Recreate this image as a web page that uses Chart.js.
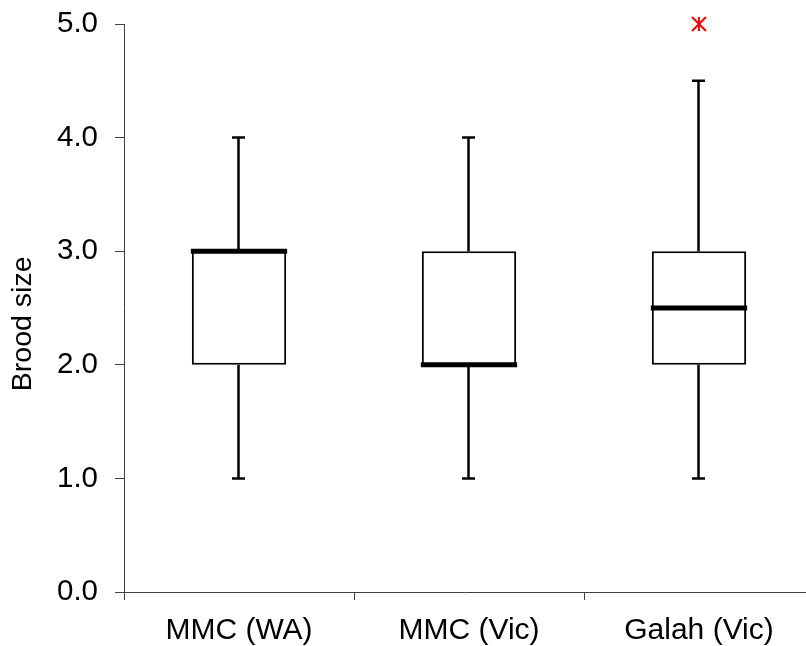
<!doctype html>
<html lang="en">
  <head>
    <meta charset="utf-8">
    <title>Brood size box plot</title>
    <style>
      * {
        margin: 0;
        padding: 0;
      }
      body {
        background: #fff;
      }
    </style>
  </head>
  <body>
    <canvas id="myChart" width="806" height="646"></canvas>
    <script src="https://cdn.jsdelivr.net/npm/chart.js/dist/chart.umd.min.js"></script>
    <script>
    // data
    const labels = ['MMC (WA)', 'MMC (Vic)', 'Galah (Vic)'];
    const mins = [1, 1, 1];
    const q1s = [2, 2, 2];
    const medians = [3, 2, 2.5];
    const q3s = [3, 3, 3];
    const maxs = [4, 4, 4.5];
    const outliers = [null, null, 5];
    const yTicks = [0, 1, 2, 3, 4, 5];

    // red asterisk used for the outlier
    function makeAsterisk(size) {
      const c = document.createElement('canvas');
      c.width = size;
      c.height = size;
      const g = c.getContext('2d');
      g.strokeStyle = '#ff0000';
      g.lineWidth = 2;
      const m = size / 2, r = size / 2 - 1;
      g.beginPath();
      g.moveTo(m, 1); g.lineTo(m, size - 1);
      g.moveTo(m - r, m - r); g.lineTo(m + r, m + r);
      g.moveTo(m + r, m - r); g.lineTo(m - r, m + r);
      g.stroke();
      return c;
    }

    // the x axis in the original runs a bit past the right edge
    const widenX = {
      id: 'widenX',
      afterLayout(chart) {
        const x = chart.scales.x;
        x.right = chart.width + 8;
        x.width = x.right - x.left;
        chart.chartArea.right = x.right;
        chart.chartArea.width = x.right - chart.chartArea.left;
        x.configure();
      }
    };

    // whiskers + medians drawn from the scales
    const boxPlot = {
      id: 'boxPlot',
      afterDatasetsDraw(chart) {
        const { ctx, scales: { x, y } } = chart;
        const bars = chart.getDatasetMeta(0).data;
        ctx.save();
        ctx.strokeStyle = '#000';
        ctx.lineCap = 'butt';
        labels.forEach((lab, i) => {
          const cx = Math.round(x.getPixelForValue(i)) - 0.5;
          const capW = 13;
          ctx.lineWidth = 2.5;
          ctx.beginPath();
          ctx.moveTo(cx, y.getPixelForValue(q3s[i]));
          ctx.lineTo(cx, y.getPixelForValue(maxs[i]));
          ctx.moveTo(cx, y.getPixelForValue(q1s[i]));
          ctx.lineTo(cx, y.getPixelForValue(mins[i]));
          ctx.moveTo(cx - capW / 2, y.getPixelForValue(maxs[i]));
          ctx.lineTo(cx + capW / 2, y.getPixelForValue(maxs[i]));
          ctx.moveTo(cx - capW / 2, y.getPixelForValue(mins[i]));
          ctx.lineTo(cx + capW / 2, y.getPixelForValue(mins[i]));
          ctx.stroke();
          // median
          const half = bars[i].width / 2 + 1;
          ctx.lineWidth = 5;
          ctx.beginPath();
          ctx.moveTo(bars[i].x - half, y.getPixelForValue(medians[i]));
          ctx.lineTo(bars[i].x + half, y.getPixelForValue(medians[i]));
          ctx.stroke();
        });
        ctx.restore();
      }
    };

    const axisColor = '#404040';
    const family = '"Liberation Sans", Arial, sans-serif';

    const config = {
      type: 'bar',
      data: {
        labels,
        datasets: [{
          label: 'box',
          data: q1s.map((v, i) => [v, q3s[i]]),
          backgroundColor: '#ffffff',
          borderColor: '#000000',
          borderWidth: 2,
          borderSkipped: false,
          categoryPercentage: 1,
          barPercentage: 0.41
        }, {
          type: 'line',
          label: 'outliers',
          data: outliers,
          showLine: false,
          pointStyle: makeAsterisk(16),
          pointRadius: 8,
          clip: false
        }]
      },
      options: {
        responsive: false,
        animation: false,
        layout: { padding: { top: 24, left: 0, right: 0, bottom: 0 } },
        plugins: {
          legend: { display: false },
          tooltip: { enabled: false }
        },
        scales: {
          x: {
            offset: true,
            grid: {
              offset: true,
              drawOnChartArea: false,
              drawTicks: true,
              tickLength: 8,
              tickColor: axisColor,
              tickWidth: 1
            },
            border: { color: axisColor, width: 1 },
            ticks: { color: '#000', font: { family, size: 30 }, padding: 13 },
            afterFit(scale) {
              scale.height = 54;
              scale.paddingLeft = 0;
              scale.paddingRight = 0;
            }
          },
          y: {
            min: 0,
            max: 5,
            afterBuildTicks(scale) {
              scale.ticks = yTicks.map(v => ({ value: v }));
            },
            grid: {
              drawOnChartArea: false,
              drawTicks: true,
              tickLength: 9,
              tickColor: axisColor,
              tickWidth: 1
            },
            border: { color: axisColor, width: 1 },
            ticks: {
              color: '#000',
              font: { family, size: 29.5 },
              padding: 17,
              callback: v => Number(v).toFixed(1)
            },
            title: {
              display: true,
              // trailing spaces nudge the title down a little, as in the original
              text: 'Brood size    ',
              color: '#000',
              font: { family, size: 28.5 },
              padding: { top: 6, bottom: 0 }
            },
            afterFit(scale) {
              scale.width = 124;
              scale.paddingTop = 0;
              scale.paddingBottom = 0;
            }
          }
        }
      },
      plugins: [widenX, boxPlot]
    };

    const myChart = new Chart(document.getElementById('myChart'), config);
    </script>
  </body>
</html>
